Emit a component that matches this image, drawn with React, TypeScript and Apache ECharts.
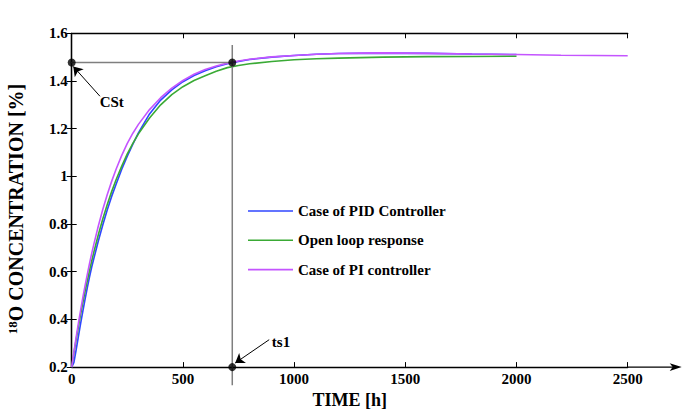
import React, { useEffect, useRef } from "react";
import * as echarts from "echarts";

// ---- data ----
const T = [0, 10, 20, 30, 40, 50, 60, 70, 80, 90, 100, 120, 140, 160, 180, 200, 225, 250, 275, 300, 350, 400, 450, 500, 550, 600, 650, 700, 750, 800, 900, 1000, 1100, 1200, 1300, 1400, 1600, 1800, 2000];
const PID = [0.2, 0.22, 0.272, 0.328, 0.382, 0.434, 0.484, 0.532, 0.578, 0.62, 0.657, 0.73, 0.797, 0.86, 0.917, 0.968, 1.03, 1.085, 1.135, 1.182, 1.262, 1.32, 1.363, 1.397, 1.423, 1.443, 1.46, 1.472, 1.482, 1.49, 1.5, 1.507, 1.512, 1.515, 1.516, 1.517, 1.516, 1.513, 1.511];
const OPEN = [0.2, 0.259, 0.315, 0.369, 0.421, 0.47, 0.517, 0.561, 0.604, 0.645, 0.684, 0.756, 0.822, 0.882, 0.937, 0.987, 1.043, 1.094, 1.138, 1.178, 1.245, 1.3, 1.343, 1.376, 1.402, 1.422, 1.441, 1.456, 1.465, 1.472, 1.482, 1.489, 1.493, 1.496, 1.498, 1.5, 1.502, 1.503, 1.504];
const T_PI = [0, 10, 20, 30, 40, 50, 60, 70, 80, 90, 100, 120, 140, 160, 180, 200, 225, 250, 275, 300, 350, 400, 450, 500, 550, 600, 650, 700, 750, 800, 900, 1000, 1100, 1200, 1300, 1400, 1600, 1800, 2000, 2200, 2500];
const PI = [0.2, 0.264, 0.325, 0.383, 0.438, 0.491, 0.541, 0.588, 0.634, 0.677, 0.717, 0.793, 0.862, 0.924, 0.98, 1.031, 1.088, 1.138, 1.181, 1.218, 1.28, 1.33, 1.37, 1.402, 1.428, 1.448, 1.463, 1.475, 1.484, 1.491, 1.501, 1.507, 1.512, 1.515, 1.517, 1.518, 1.516, 1.513, 1.511, 1.508, 1.506];

const SERIES_NAMES = ["Case of PID Controller", "Open loop response", "Case of PI controller"];
const X_TICKS = [0, 500, 1000, 1500, 2000, 2500];
const Y_TICKS = [0.2, 0.4, 0.6, 0.8, 1, 1.2, 1.4, 1.6];

const CST = 1.4775; // steady-state concentration marker
const TS1 = 722; // settling time marker
const CST_LINE_X = [-49, TS1];
const TS1_LINE_Y = [1.551, 0.124];
const CST_ARROW = [[127, 1.336], [7, 1.461]];
const TS1_ARROW = [[888, 0.315], [735, 0.217]];
const ANNOTATIONS = [
  { text: "CSt", at: [180, 1.312] },
  { text: "ts1", at: [941, 0.307] },
];

const FONT = "'Liberation Serif', 'Times New Roman', serif";
const LEGEND_ICON = "path://M0 0 H45 V1.6 H0 Z";

export default function App() {
  const ref = useRef<HTMLDivElement>(null);
  useEffect(() => {
    document.body.style.margin = "0";
    const chart = echarts.init(ref.current!, undefined, { renderer: "svg" });
    const zip = (xs: number[], ys: number[]) => xs.map((x, i) => [x, ys[i]]);
    const axisLine = { show: true, lineStyle: { color: "#000", width: 1.3 } };
    const tick = { show: true, inside: true, length: 5, lineStyle: { color: "#000", width: 1 } };
    const labelStyle = { color: "#000", fontFamily: FONT, fontWeight: "bold" as const, fontSize: 15 };
    const curve = (name: string, xs: number[], ys: number[], color: string) => ({
      name,
      type: "line",
      data: zip(xs, ys),
      symbol: "none",
      lineStyle: { color, width: 1.6 },
      itemStyle: { color },
    });
    chart.setOption({
      animation: false,
      backgroundColor: "#fff",
      grid: { left: 71.7, right: 57.3, top: 33.3, bottom: 43.3 },
      legend: {
        data: SERIES_NAMES.map((name) => ({ name, icon: LEGEND_ICON })),
        orient: "vertical",
        left: 248,
        top: 203.5,
        padding: 0,
        itemWidth: 45,
        itemHeight: 14,
        itemGap: 14.3,
        textStyle: { ...labelStyle, fontSize: 15 },
      },
      xAxis: [
        {
          type: "value",
          min: X_TICKS[0],
          max: X_TICKS[X_TICKS.length - 1],
          interval: X_TICKS[1] - X_TICKS[0],
          name: "TIME [h]",
          nameLocation: "middle",
          nameGap: 22,
          nameTextStyle: { ...labelStyle, fontSize: 18 },
          axisLine,
          axisTick: tick,
          axisLabel: { ...labelStyle, margin: 4, formatter: (v: number) => String(v) },
          splitLine: { show: false },
        },
        {
          type: "value",
          position: "top",
          min: X_TICKS[0],
          max: X_TICKS[X_TICKS.length - 1],
          interval: X_TICKS[1] - X_TICKS[0],
          axisLine,
          axisTick: tick,
          axisLabel: { show: false },
          splitLine: { show: false },
        },
      ],
      yAxis: [
        {
          type: "value",
          min: Y_TICKS[0],
          max: Y_TICKS[Y_TICKS.length - 1],
          interval: 0.2,
          axisLine,
          axisTick: tick,
          axisLabel: { ...labelStyle, margin: 4, formatter: (v: number) => String(Math.round(v * 10) / 10) },
          splitLine: { show: false },
        },
        {
          type: "value",
          position: "right",
          min: Y_TICKS[0],
          max: Y_TICKS[Y_TICKS.length - 1],
          interval: 0.2,
          axisLine,
          axisTick: tick,
          axisLabel: { show: false },
          splitLine: { show: false },
        },
      ],
      series: [
        curve(SERIES_NAMES[0], T, PID, "#2f46ff"),
        curve(SERIES_NAMES[1], T, OPEN, "#3aaa35"),
        curve(SERIES_NAMES[2], T_PI, PI, "#c455ff"),
        {
          type: "line",
          data: CST_LINE_X.map((x) => [x, CST]),
          symbol: "none",
          clip: false,
          silent: true,
          lineStyle: { color: "#7f7f7f", width: 1.5 },
        },
        {
          type: "line",
          data: TS1_LINE_Y.map((y) => [TS1, y]),
          symbol: "none",
          clip: false,
          silent: true,
          lineStyle: { color: "#7f7f7f", width: 1.5 },
        },
        {
          type: "lines",
          coordinateSystem: "cartesian2d",
          data: [{ coords: CST_ARROW }, { coords: TS1_ARROW }],
          symbol: ["none", "arrow"],
          symbolSize: 9,
          silent: true,
          clip: false,
          lineStyle: { color: "#000", width: 1, opacity: 1 },
        },
        {
          type: "scatter",
          data: [[0, CST], [TS1, CST], [TS1, Y_TICKS[0]]],
          symbol: "circle",
          symbolSize: 8,
          clip: false,
          silent: true,
          itemStyle: { color: "#000" },
          z: 5,
        },
      ],
    });
    const p = chart.convertToPixel({ gridIndex: 0 }, [X_TICKS[X_TICKS.length - 1], Y_TICKS[0]]) as number[];
    const annotationTexts = ANNOTATIONS.map((a) => {
      const q = chart.convertToPixel({ gridIndex: 0 }, a.at) as number[];
      return {
        type: "text",
        x: q[0],
        y: q[1],
        z: 10,
        style: {
          text: a.text,
          align: "center",
          verticalAlign: "middle",
          fill: "#000",
          font: `bold 15px ${FONT}`,
        },
      };
    });
    chart.setOption({
      graphic: [
        {
          type: "line",
          shape: { x1: p[0], y1: p[1], x2: p[0] + 48, y2: p[1] },
          style: { stroke: "#000", lineWidth: 1.3 },
        },
        {
          type: "polygon",
          shape: { points: [[p[0] + 54, p[1]], [p[0] + 42, p[1] - 3.8], [p[0] + 45, p[1]], [p[0] + 42, p[1] + 3.8]] },
          style: { fill: "#000" },
        },
        ...annotationTexts,
        {
          type: "text",
          x: 16,
          y: 209,
          rotation: Math.PI / 2,
          style: {
            text: "{s|18}{b|O CONCENTRATION [%]}",
            align: "center",
            verticalAlign: "middle",
            fill: "#000",
            rich: {
              s: { fontFamily: FONT, fontWeight: "bold", fontSize: 13, fill: "#000", padding: [0, 0, 8, 0] },
              b: { fontFamily: FONT, fontWeight: "bold", fontSize: 20, fill: "#000" },
            },
          },
        },
      ],
    });
    return () => chart.dispose();
  }, []);
  return <div ref={ref} style={{ position: "fixed", left: 0, top: 0, width: 685, height: 414 }} />;
}
